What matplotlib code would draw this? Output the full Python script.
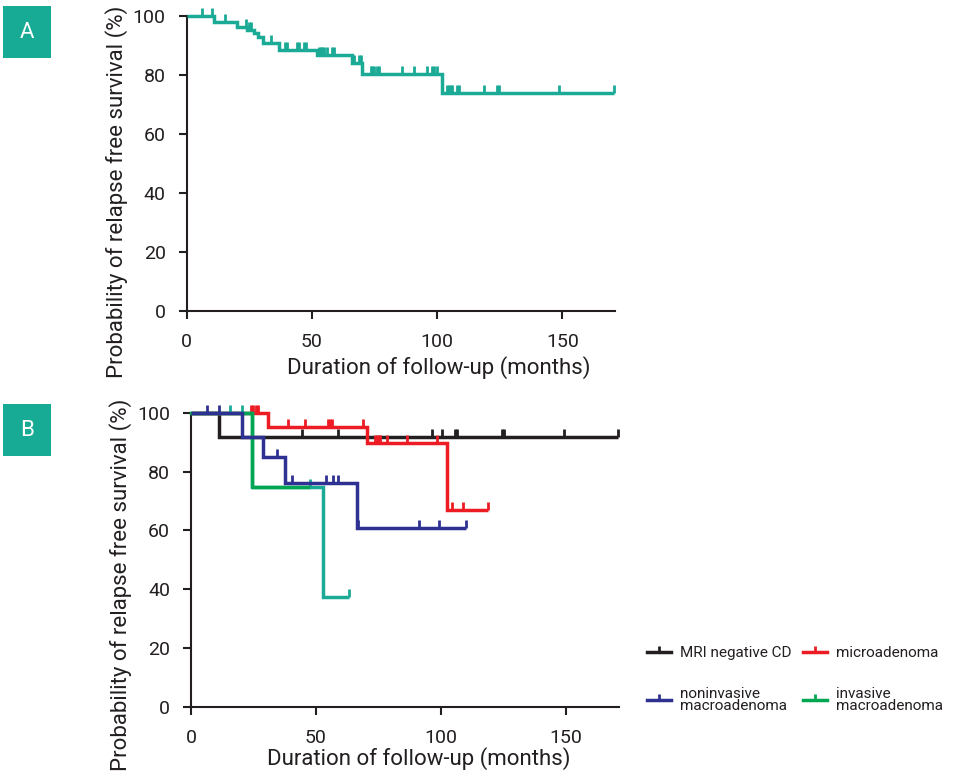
import numpy as np
import matplotlib
matplotlib.use("Agg")
import matplotlib.pyplot as plt
from matplotlib.path import Path
from matplotlib.lines import Line2D
from matplotlib.patches import Rectangle

plt.rcParams['font.family'] = ['Roboto', 'DejaVu Sans']

# ---------------- data ----------------
# Panel A: whole cohort
a_times = [0, 10.9, 20.2, 24.2, 26.9, 28.5, 30.6, 36.8, 52.2, 66.1, 70.1, 102.1]
a_surv = [100, 98.1, 96.4, 95.3, 94.3, 92.8, 90.7, 88.5, 86.8, 84.0, 80.3, 73.8]
a_end = 170.6
a_censor = [6.3, 10.3, 15.3, 23.6, 24.9, 25.8, 33.8, 39.5, 40.2, 44.2, 44.8, 47.1, 47.8,
            52.8, 53.5, 54.2, 54.8, 56.2, 58.2, 58.8, 66.8, 68.8, 69.5, 73.5, 74.1, 74.8,
            76.1, 76.8, 86.1, 90.8, 96.1, 98.1, 98.7, 100.1, 104.1, 104.7, 105.4, 106.1,
            108.1, 108.7, 118.7, 124.0, 124.7, 148.6, 170.6]

# Panel B: by imaging group
mri_times = [0, 11.2]
mri_surv = [100, 91.7]
mri_end = 170.9
mri_censor = [44.5, 58.9, 96.3, 100.3, 105.6, 106.3, 124.3, 125.0, 149.2, 170.9]

micro_times = [0, 30.9, 70.3, 102.3]
micro_surv = [100, 95.3, 89.7, 67.0]
micro_end = 118.9
micro_censor = [23.9, 24.9, 26.0, 26.9, 38.9, 45.6, 54.9, 55.6, 56.3, 68.9, 73.6, 74.3,
                75.0, 75.6, 78.3, 86.3, 98.3, 104.3, 108.7, 118.9]

nonin_times = [0, 20.3, 28.9, 37.6, 66.3]
nonin_surv = [100, 91.9, 85.1, 76.1, 60.7]
nonin_end = 109.9
nonin_censor = [6.3, 11.2, 34.3, 40.3, 53.9, 56.9, 58.9, 66.9, 91.2, 99.3, 109.9]

inv_times = [0, 24.5, 52.9]
inv_surv = [100, 74.9, 37.5]
inv_end = 63.2
inv_censor = [15.6, 20.5, 47.6, 63.2]
inv_green_until = 46.9

legend_labels = ["MRI negative CD", "microadenoma", "noninvasive\nmacroadenoma", "invasive\nmacroadenoma"]
x_ticks = [0, 50, 100, 150]
y_ticks = [0, 20, 40, 60, 80, 100]
xlabel = "Duration of follow-up (months)"
ylabel = "Probability of relapse free survival (%)"

# ---------------- style ----------------
TEAL = '#1aaa96'
BLACK = '#231f20'
RED = '#ed1c24'
NAVY = '#2e3192'
GREEN = '#00a651'
BOX = '#17ab95'
TXT = '#231f20'
LW = 2.5
tick_marker = Path([(0, 0), (0, 1)], [Path.MOVETO, Path.LINETO])

W, H = 957, 777
fig = plt.figure(figsize=(W / 100, H / 100), dpi=100)


def px_axes(left, right, top, bottom):
    return fig.add_axes([left / W, 1 - bottom / H, (right - left) / W, (bottom - top) / H])


def km(ax, times, surv, end, censor, color, z):
    t = list(times) + [end]
    s = list(surv) + [surv[-1]]
    ax.step(t, s, where='post', color=color, lw=LW, zorder=z, clip_on=False,
            solid_joinstyle='miter', solid_capstyle='butt')
    tt = np.array(times)
    cy = [surv[np.searchsorted(tt, c, side='right') - 1] for c in censor]
    ax.plot(censor, cy, ls='none', marker=tick_marker, markersize=11,
            markeredgewidth=2.0, color=color, zorder=z, clip_on=False)


def style(ax, xlim):
    ax.set_xlim(*xlim)
    ax.set_ylim(0, 100)
    ax.set_xticks(x_ticks)
    ax.set_yticks(y_ticks)
    for s in ['top', 'right']:
        ax.spines[s].set_visible(False)
    for s in ['left', 'bottom']:
        ax.spines[s].set_linewidth(1.5)
        ax.spines[s].set_color(TXT)
    ax.tick_params(direction='out', length=6, width=1.5, color=TXT,
                   labelsize=14, labelcolor=TXT)
    ax.tick_params(axis='x', pad=10)
    ax.tick_params(axis='y', pad=9)
    ax.set_xlabel(xlabel, fontsize=16, color=TXT)
    ax.set_ylabel(ylabel, fontsize=16, color=TXT)
    ax.xaxis.label.set_va('center')
    ax.yaxis.label.set_va('center')


# Panel A
axA = px_axes(186.5, 186.5 + 171 * 2.505, 16, 311)
km(axA, a_times, a_surv, a_end, a_censor, TEAL, 3)
style(axA, (0, 171))
axA.xaxis.set_label_coords(0.589, -0.193)
axA.yaxis.set_label_coords(-0.164, 0.405)

# Panel B
axB = px_axes(191, 191 + 171 * 2.5, 413, 706.7)
km(axB, mri_times, mri_surv, mri_end, mri_censor, BLACK, 2)
km(axB, micro_times, micro_surv, micro_end, micro_censor, RED, 3)
km(axB, inv_times, inv_surv, inv_end, inv_censor, TEAL, 4)
g_t = [t for t in inv_times if t < inv_green_until]
g_s = inv_surv[:len(g_t)]
axB.step(g_t + [inv_green_until], g_s + [g_s[-1]], where='post', color=GREEN, lw=LW,
         zorder=5, clip_on=False)
km(axB, nonin_times, nonin_surv, nonin_end, nonin_censor, NAVY, 6)
style(axB, (0, 171))
axB.xaxis.set_label_coords(0.533, -0.175)
axB.yaxis.set_label_coords(-0.166, 0.414)

handles = [Line2D([], [], color=c, lw=LW, marker=tick_marker, markersize=8,
                  markeredgewidth=2.0) for c in [BLACK, RED, NAVY, GREEN]]
order = [0, 2, 1, 3]
leg = fig.legend([handles[i] for i in order], [legend_labels[i] for i in order],
                 ncol=2, loc='upper left', bbox_to_anchor=(647 / W, 1 - 646 / H),
                 frameon=False, fontsize=11, handlelength=1.57, handletextpad=0.6,
                 columnspacing=0.75, labelspacing=1.75, borderpad=0, borderaxespad=0)
for t in leg.get_texts():
    t.set_color(TXT)
    t.set_linespacing(0.85)

# panel letters
for lab, top in [("A", 6), ("B", 404)]:
    fig.patches.append(Rectangle((3 / W, 1 - (top + 52) / H), 48 / W, 52 / H,
                                 transform=fig.transFigure, facecolor=BOX,
                                 edgecolor='none'))
    fig.text(27 / W, 1 - (top + 26) / H, lab, color='white', fontsize=16,
             ha='center', va='center')

fig.savefig("out.png", dpi=100)
